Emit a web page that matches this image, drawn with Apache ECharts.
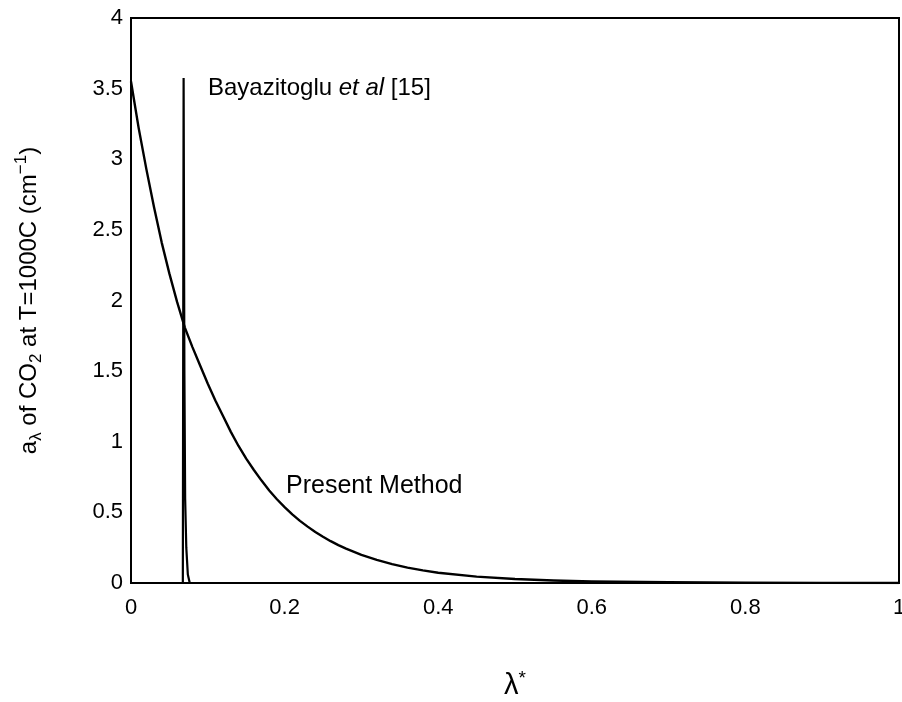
<!DOCTYPE html>
<html>
<head>
<meta charset="utf-8">
<script src="https://cdn.jsdelivr.net/npm/echarts@6/dist/echarts.min.js"></script>
<style>
  html, body { margin: 0; padding: 0; background: #fff; }
  #chart { width: 902px; height: 702px; }
</style>
</head>
<body>
<div id="chart"></div>
<script>
// present method curve
const curveX = [0, 0.01, 0.02, 0.03, 0.04, 0.05, 0.06, 0.07, 0.08, 0.09, 0.10, 0.11, 0.12, 0.13, 0.14, 0.15,
  0.16, 0.17, 0.18, 0.19, 0.20, 0.21, 0.22, 0.23, 0.24, 0.25, 0.26, 0.27, 0.28, 0.30, 0.32, 0.34, 0.36, 0.38,
  0.40, 0.45, 0.50, 0.55, 0.60, 0.70, 0.80, 0.90, 1.0]
const curveY = [3.55, 3.22, 2.93, 2.66, 2.41, 2.19, 1.99, 1.81, 1.67, 1.54, 1.41, 1.29, 1.18, 1.07, 0.97, 0.88,
  0.80, 0.725, 0.655, 0.593, 0.537, 0.486, 0.44, 0.399, 0.361, 0.327, 0.296, 0.268, 0.243, 0.199, 0.164, 0.134,
  0.109, 0.089, 0.073, 0.045, 0.028, 0.018, 0.011, 0.005, 0.002, 0.001, 0.0005]
// Bayazitoglu et al narrow peak
const spikeX = [0.0675, 0.0685, 0.0695, 0.0705, 0.072, 0.074, 0.0765]
const spikeY = [0, 3.575, 1.5, 0.6, 0.25, 0.06, 0]

const toPairs = (xs, ys) => xs.map((x, i) => [x, ys[i]])

const font = '"Liberation Sans", Arial, Helvetica, sans-serif'
const myChart = echarts.init(document.getElementById('chart'))

const option = {
  animation: false,
  backgroundColor: '#fff',
  textStyle: { fontFamily: font, color: '#000' },
  grid: {
    left: 131,
    right: 3,
    top: 18,
    bottom: 119,
    outerBoundsMode: 'none',
    containLabel: false,
    show: true,
    borderColor: '#000',
    borderWidth: 2
  },
  xAxis: {
    type: 'value',
    min: 0,
    max: 1,
    interval: 0.2,
    axisLine: { show: true, lineStyle: { color: '#000', width: 2 } },
    axisTick: { show: false },
    splitLine: { show: false },
    axisLabel: { color: '#000', fontSize: 22, fontFamily: font, margin: 14 },
    name: '{l|λ}{s|*}',
    nameLocation: 'middle',
    nameGap: 86,
    nameTextStyle: {
      rich: {
        l: { fontSize: 29, fontFamily: font, color: '#000', lineHeight: 34 },
        s: { fontSize: 19, fontFamily: font, color: '#000', lineHeight: 19, verticalAlign: 'top' }
      }
    }
  },
  yAxis: {
    type: 'value',
    min: 0,
    max: 4,
    interval: 0.5,
    axisLine: { show: true, lineStyle: { color: '#000', width: 2 } },
    axisTick: { show: false },
    splitLine: { show: false },
    axisLabel: { color: '#000', fontSize: 22, fontFamily: font, margin: 8 },
    name: '{n|a}{sub|λ}{n| of CO}{sub|2}{n| at T=1000C (cm}{sup|−1}{n|)}',
    nameLocation: 'middle',
    nameRotate: 90,
    nameGap: 86,
    nameTextStyle: {
      rich: {
        n: { fontSize: 24, fontFamily: font, color: '#000', lineHeight: 32 },
        sub: { fontSize: 17, fontFamily: font, color: '#000', lineHeight: 17, verticalAlign: 'bottom' },
        sup: { fontSize: 17, fontFamily: font, color: '#000', lineHeight: 17, verticalAlign: 'top' }
      }
    }
  },
  graphic: [
    {
      type: 'text',
      left: 208,
      top: 76,
      style: {
        text: '{n|Bayazitoglu }{i|et al}{n| [15]}',
        rich: {
          n: { fontSize: 24, fontFamily: font, fill: '#000' },
          i: { fontSize: 24, fontFamily: font, fontStyle: 'italic', fill: '#000' }
        }
      }
    },
    {
      type: 'text',
      left: 286,
      top: 474,
      style: { text: 'Present Method', fontSize: 25, fontFamily: font, fill: '#000' }
    }
  ],
  series: [
    {
      name: 'Present Method',
      type: 'line',
      data: toPairs(curveX, curveY),
      showSymbol: false,
      lineStyle: { color: '#000', width: 2.4, join: 'round' },
      z: 3
    },
    {
      name: 'Bayazitoglu et al [15]',
      type: 'line',
      data: toPairs(spikeX, spikeY),
      showSymbol: false,
      lineStyle: { color: '#000', width: 2.2 },
      z: 4
    }
  ]
}

myChart.setOption(option, true)
</script>
</body>
</html>
